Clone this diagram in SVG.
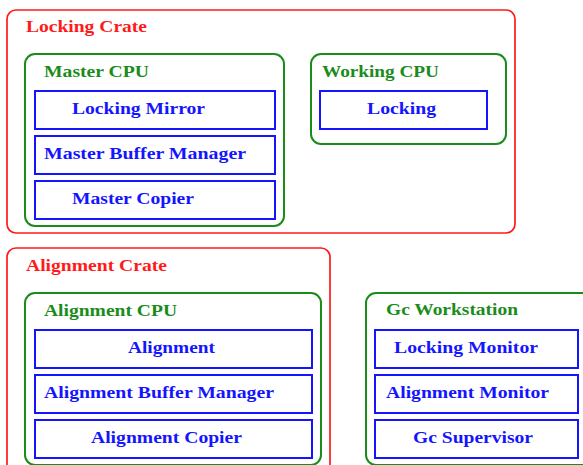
<svg xmlns="http://www.w3.org/2000/svg" width="583" height="465" viewBox="0 0 583 465">
<style>
text{font-family:"Liberation Serif","Times New Roman",serif;font-weight:bold;font-size:16px}
.crate{fill:none;stroke:#ff1a1a;stroke-width:1.7}
.cpu{fill:none;stroke:#1a8c1a;stroke-width:2}
.box{fill:none;stroke:#1414ff;stroke-width:2}
.tr{fill:#ff1a1a}
.tg{fill:#1a8c1a}
.tb{fill:#1414ff}
</style>
<rect width="583" height="465" fill="#ffffff"/>
<g id="locking-crate">
<rect class="crate" x="7" y="10" width="508" height="223" rx="9"/>
<text class="tr" x="26" y="32" textLength="121" lengthAdjust="spacingAndGlyphs">Locking Crate</text>
</g>
<g id="master-cpu">
<rect class="cpu" x="25" y="54" width="259" height="172" rx="10"/>
<text class="tg" x="44" y="77" textLength="105" lengthAdjust="spacingAndGlyphs">Master CPU</text>
</g>
<g id="locking-mirror">
<rect class="box" x="35" y="91" width="240" height="38"/>
<text class="tb" x="72" y="114" textLength="133" lengthAdjust="spacingAndGlyphs">Locking Mirror</text>
</g>
<g id="master-buffer-manager">
<rect class="box" x="35" y="136" width="240" height="38"/>
<text class="tb" x="44" y="159" textLength="202" lengthAdjust="spacingAndGlyphs">Master Buffer Manager</text>
</g>
<g id="master-copier">
<rect class="box" x="35" y="181" width="240" height="38"/>
<text class="tb" x="72" y="204" textLength="122" lengthAdjust="spacingAndGlyphs">Master Copier</text>
</g>
<g id="working-cpu">
<rect class="cpu" x="311" y="54" width="195" height="90" rx="10"/>
<text class="tg" x="322" y="77" textLength="117" lengthAdjust="spacingAndGlyphs">Working CPU</text>
</g>
<g id="locking">
<rect class="box" x="320" y="91" width="167" height="38"/>
<text class="tb" x="367" y="114" textLength="69" lengthAdjust="spacingAndGlyphs">Locking</text>
</g>
<g id="alignment-crate">
<rect class="crate" x="7" y="248" width="323" height="230" rx="9"/>
<text class="tr" x="26" y="271" textLength="141" lengthAdjust="spacingAndGlyphs">Alignment Crate</text>
</g>
<g id="alignment-cpu">
<rect class="cpu" x="25" y="293" width="296" height="172" rx="10"/>
<text class="tg" x="44" y="316" textLength="133" lengthAdjust="spacingAndGlyphs">Alignment CPU</text>
</g>
<g id="alignment">
<rect class="box" x="35" y="330" width="277" height="38"/>
<text class="tb" x="128" y="353" textLength="87" lengthAdjust="spacingAndGlyphs">Alignment</text>
</g>
<g id="alignment-buffer-manager">
<rect class="box" x="35" y="375" width="277" height="38"/>
<text class="tb" x="44" y="398" textLength="230" lengthAdjust="spacingAndGlyphs">Alignment Buffer Manager</text>
</g>
<g id="alignment-copier">
<rect class="box" x="35" y="420" width="277" height="38"/>
<text class="tb" x="91" y="443" textLength="151" lengthAdjust="spacingAndGlyphs">Alignment Copier</text>
</g>
<g id="gc-workstation">
<rect class="cpu" x="366" y="293" width="230" height="172" rx="10"/>
<text class="tg" x="386" y="315" textLength="132" lengthAdjust="spacingAndGlyphs">Gc Workstation</text>
</g>
<g id="locking-monitor">
<rect class="box" x="375" y="330" width="203" height="38"/>
<text class="tb" x="394" y="353" textLength="144" lengthAdjust="spacingAndGlyphs">Locking Monitor</text>
</g>
<g id="alignment-monitor">
<rect class="box" x="375" y="375" width="203" height="38"/>
<text class="tb" x="386" y="398" textLength="163" lengthAdjust="spacingAndGlyphs">Alignment Monitor</text>
</g>
<g id="gc-supervisor">
<rect class="box" x="375" y="420" width="203" height="38"/>
<text class="tb" x="413" y="443" textLength="120" lengthAdjust="spacingAndGlyphs">Gc Supervisor</text>
</g>
<g id="connectors"></g>
</svg>
